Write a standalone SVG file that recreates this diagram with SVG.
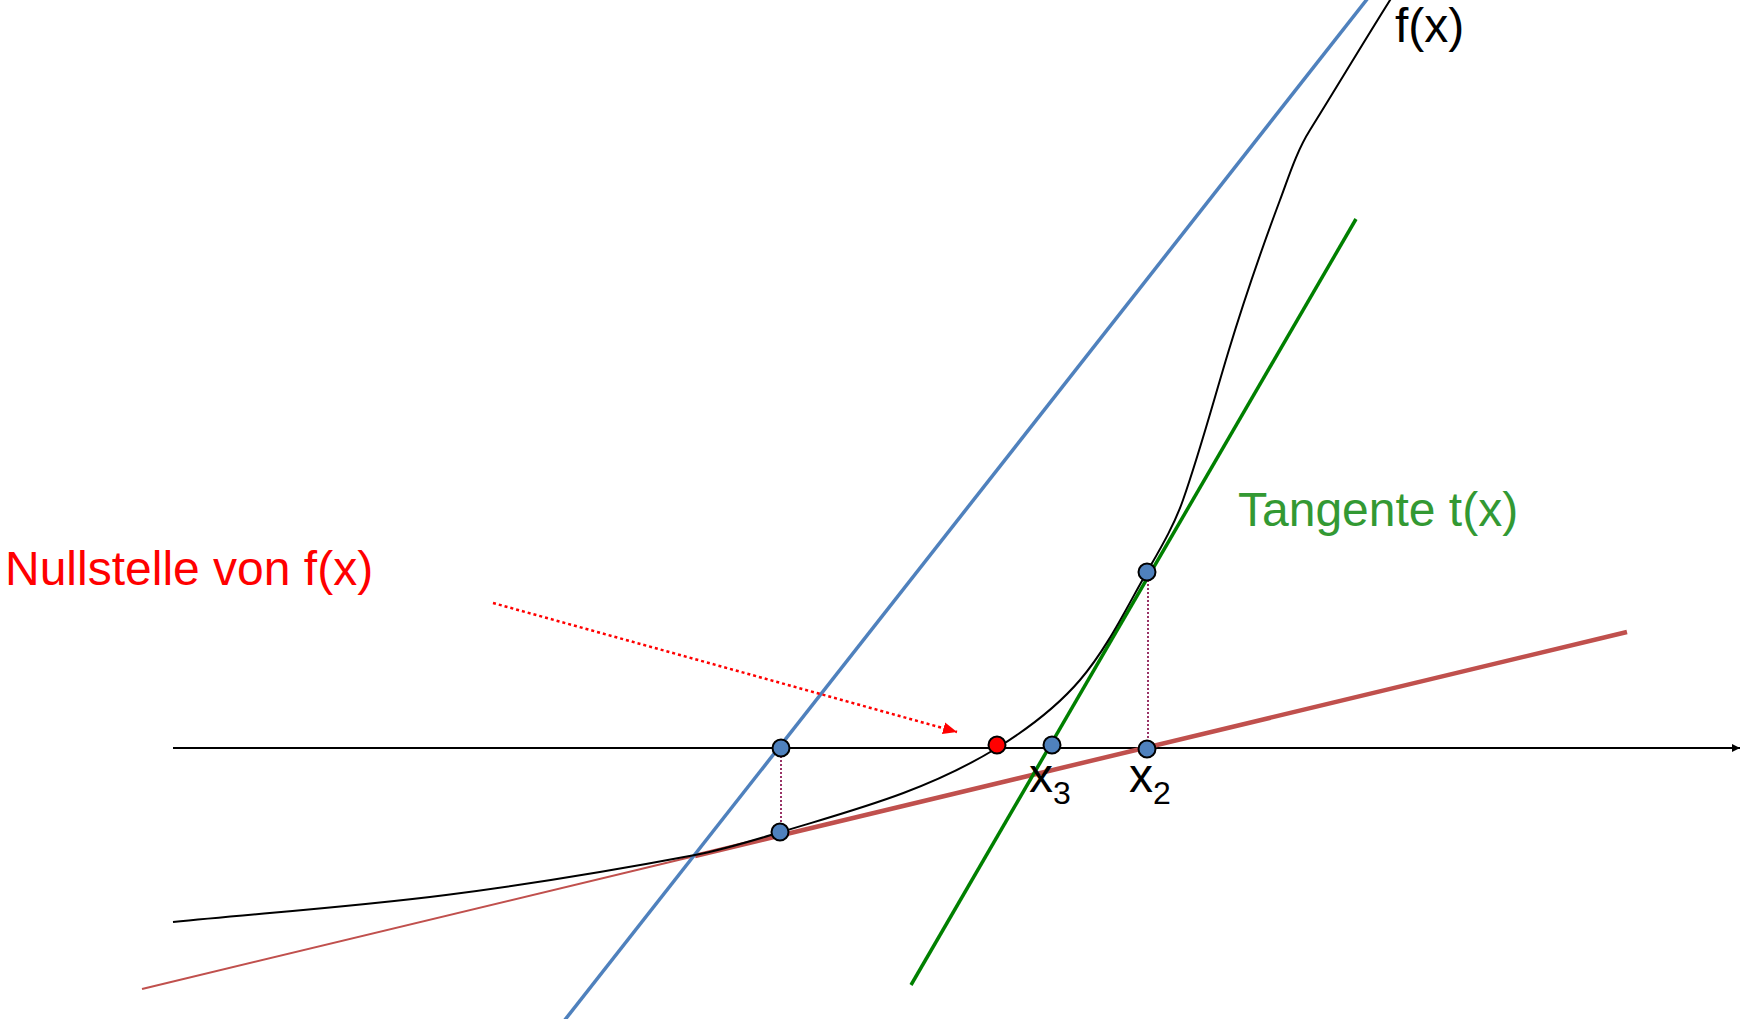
<svg xmlns="http://www.w3.org/2000/svg" width="1740" height="1019" viewBox="0 0 1740 1019">
<defs>
<style>
.lbl{font-family:"Liberation Sans",Arial,sans-serif;}
.pt{fill:#4F81BD;stroke:#000;stroke-width:2;}
.vdot{stroke:#993366;stroke-width:2;stroke-dasharray:2 2;fill:none;}
</style>
<marker id="axArrow" markerWidth="10" markerHeight="10" refX="8" refY="5" orient="auto" markerUnits="userSpaceOnUse">
<path d="M0,1 L8,5 L0,9 Z" fill="#000"/>
</marker>
<marker id="redArrow" markerWidth="16" markerHeight="14" refX="14" refY="7" orient="auto" markerUnits="userSpaceOnUse">
<path d="M0,1 L14,7 L0,13 Z" fill="#FF0000"/>
</marker>
</defs>
<rect width="1740" height="1019" fill="#fff"/>
<g id="connectors">
<line id="axis" x1="173" y1="748" x2="1740" y2="748" stroke="#000" stroke-width="2" marker-end="url(#axArrow)"/>
<line id="secant-thin" x1="142" y1="989" x2="695" y2="856" stroke="#C0504D" stroke-width="2"/>
<line id="secant-thick" x1="695" y1="856" x2="1627" y2="632" stroke="#C0504D" stroke-width="4.5"/>
<line id="blue-line" x1="1368" y1="-2" x2="564" y2="1021" stroke="#4F81BD" stroke-width="3.5"/>
<line id="tangent" x1="911" y1="985" x2="1356" y2="219" stroke="#008000" stroke-width="3.5"/>
<path id="fx" fill="none" stroke="#000" stroke-width="2" d="M173,922 C264,913 355.3,906.6 446,895 C529.4,884.3 612.3,870.6 695,855 C724.2,849.5 752.6,840.5 781,832 C853,810 925,792 997,748 C1027.4,729.1 1056.8,707.2 1080,680 C1107.5,647.7 1125.9,608.8 1147,572 C1160.3,548.7 1174.2,525.3 1183,500 C1199.9,451.7 1213.2,402 1228,353 C1243.6,301.4 1261.1,250.5 1280,200 C1288.9,176.2 1296.5,151.5 1310,130 C1337,86.8 1362.9,43.1 1392,-3"/>
<line id="v1" class="vdot" x1="781" y1="752" x2="781" y2="830"/>
<line id="v2" class="vdot" x1="1148" y1="576" x2="1148" y2="747"/>
<line id="red-arrow" x1="493" y1="603" x2="957" y2="732" stroke="#FF0000" stroke-width="2.5" stroke-dasharray="3 3" marker-end="url(#redArrow)"/>
</g>
<g id="p-x1"><circle class="pt" cx="781" cy="748" r="8.5"/></g>
<g id="p-fx1"><circle class="pt" cx="780" cy="832" r="8.5"/></g>
<g id="p-root"><circle cx="997" cy="745" r="8.5" fill="#FF0000" stroke="#000" stroke-width="2"/></g>
<g id="p-x3"><circle class="pt" cx="1052" cy="745" r="8.5"/></g>
<g id="p-x2"><circle class="pt" cx="1147" cy="749" r="8.5"/></g>
<g id="p-fx2"><circle class="pt" cx="1147" cy="572" r="8.5"/></g>
<g id="label-fx"><text class="lbl" x="1395" y="42" font-size="48" fill="#000">f(x)</text></g>
<g id="label-tangente"><text class="lbl" x="1238" y="526" font-size="48" fill="#339933">Tangente t(x)</text></g>
<g id="label-nullstelle"><text class="lbl" x="5" y="585" font-size="48" fill="#FF0000">Nullstelle von f(x)</text></g>
<g id="label-x3"><text class="lbl" x="1029" y="792" font-size="48" fill="#000">x<tspan font-size="32" dy="12">3</tspan></text></g>
<g id="label-x2"><text class="lbl" x="1129" y="792" font-size="48" fill="#000">x<tspan font-size="32" dy="12">2</tspan></text></g>
</svg>
